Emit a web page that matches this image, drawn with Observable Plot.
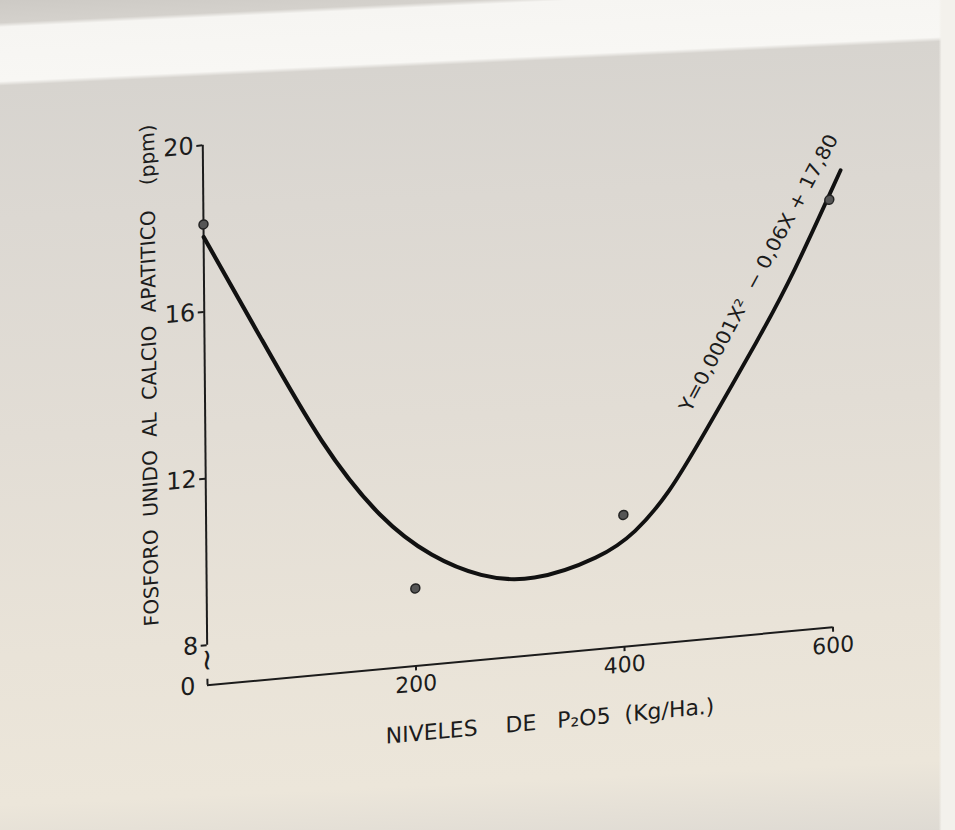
<!DOCTYPE html>
<html>
<head>
<meta charset="utf-8">
<script src="https://cdn.jsdelivr.net/npm/d3@7"></script>
<script src="https://cdn.jsdelivr.net/npm/@observablehq/plot@0.6"></script>
<style>
  html, body { margin: 0; padding: 0; }
  body {
    width: 955px; height: 830px; overflow: hidden;
    background:
      linear-gradient(to right, rgba(0,0,0,0) 98.3%, #f3f1ec 98.6%),
      linear-gradient(177.3deg, #cdcac5 0%, #d4d1cc 2.6%, #f6f5f2 3.1%, #f8f7f4 9.3%, #d7d4cf 9.8%, #dcd8d2 25%, #e2ddd5 50%, #e9e3d8 75%, #ece6da 92%, #dedad3 100%);
  }
  #chart svg text { white-space: pre; }
</style>
</head>
<body>
<div id="chart"></div>
<script>
// ---- data ----
const levels = [0, 200, 400, 600];                 // P2O5 levels (kg/ha)
const measured = [18.1, 8.9, 10.2, 17.3];          // observed ppm

const curveX = [0, 53, 112, 168, 216, 263, 311, 379, 411, 444, 476, 533, 564, 611];
const curveY = [17.8, 15.3, 12.5, 10.6, 9.61, 9.02, 8.78, 9.23, 9.73, 10.61, 11.88, 14.2, 15.55, 17.98];

const yTicks = [8, 12, 16, 20];
const yZero = [0];
const xTicks = [200, 400, 600];

const yTitle = "FOSFORO  UNIDO  AL  CALCIO  APATITICO    (ppm)";
const xTitle = "NIVELES    DE   P\u2082O5  (Kg/Ha.)";
const equation = "Y=0,0001X\u00B2  \u2212 0,06X + 17,80";

// ---- build tables ----
const points = levels.map((x, i) => ({x, y: measured[i]}));
const curve = curveX.map((x, i) => ({x, y: curveY[i]}));

// broken axis: 0..8 squeezed below the 8..20 segment
const breakAt = 8, squeeze = 0.12;
const brokenY = v => v >= breakAt ? v : breakAt - (breakAt - v) * squeeze;

const ink = "#1c1c1c";

const svg = Plot.plot({
  width: 955,
  height: 830,
  marginLeft: 207,
  marginRight: 122,
  marginTop: 145,
  marginBottom: 145,
  style: {background: "transparent", fontFamily: "DejaVu Sans", color: ink, overflow: "visible"},
  x: {domain: [0, 600], range: [207, 833]},
  y: {transform: brokenY, domain: [brokenY(0), 20], range: [685, 145]},
  marks: [
    // broken y axis
    Plot.ruleX([0], {y1: 8, y2: 20, stroke: ink, strokeWidth: 2}),
    Plot.ruleX([0], {y1: 0, y2: 1.2, stroke: ink, strokeWidth: 2}),
    Plot.text(["~"], {x: () => 0, y: () => 5.0, text: d => d, rotate: 90, fontSize: 30, fill: ink}),
    // x axis line
    Plot.ruleY([0], {x1: 0, x2: 600, stroke: ink, strokeWidth: 2}),
    Plot.axisY(yTicks, {tickSize: 6, tickPadding: 3, fontSize: 24, strokeWidth: 2, label: null}),
    Plot.axisY(yZero, {tickSize: 0, tickPadding: 12, fontSize: 24, label: null}),
    Plot.axisX(xTicks, {tickSize: 5, tickPadding: 5, fontSize: 22, strokeWidth: 2, label: null}),
    // fitted curve
    Plot.line(curve, {x: "x", y: "y", curve: "basis", stroke: "#111", strokeWidth: 4}),
    // observations
    Plot.dot(points, {x: "x", y: "y", r: 4.5, fill: "#555", stroke: "#222", strokeWidth: 1.5}),
    // annotations
    Plot.text([equation], {x: () => 532, y: () => 15.7, text: d => d, rotate: -60, fontSize: 20, fill: ink}),
    Plot.text([yTitle], {x: () => 0, y: () => 14.6, text: d => d, rotate: -90, dx: -55, fontSize: 20, fill: ink}),
    Plot.text([xTitle], {x: () => 328, y: () => 0, text: d => d, dy: 68, fontSize: 22, fill: ink})
  ]
});

svg.style.transformOrigin = "205px 685px";
svg.style.transform = "rotate(-0.5deg) skewY(-4.8deg)";
document.getElementById("chart").appendChild(svg);
</script>
</body>
</html>
